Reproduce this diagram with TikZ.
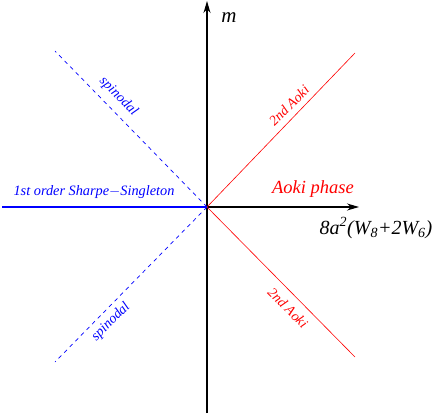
\documentclass[tikz,border=0pt]{standalone}
\usepackage{fontspec}
\setmainfont{Liberation Serif}
\usetikzlibrary{arrows.meta}
\begin{document}
\begin{tikzpicture}[x=1pt,y=-1pt,
  axis/.style={line width=1.2pt,-{Stealth[length=12pt,width=7pt]}},
  aoki/.style={red,line width=0.6pt},
  spin/.style={blue,dashed,line width=0.7pt,dash pattern=on 4pt off 4pt},
  lab/.style={inner sep=1pt},
  small/.style={font=\itshape\fontsize{14}{16}\selectfont}]
\useasboundingbox (0,0) rectangle (436,414);
\coordinate (O) at (207,207);
\coordinate (bot) at (207,413);
\coordinate (top) at (207,1);
\coordinate (right) at (359,207);
\coordinate (left) at (2,207);
\coordinate (ur) at (355,53);
\coordinate (lr) at (355,357);
\coordinate (ul) at (55,51);
\coordinate (ll) at (55,362);
\draw[axis] (bot) -- (top);
\draw[axis] (O) -- (right);
\draw[blue,line width=2.2pt] (left) -- (O);
\draw[aoki] (O) -- (ur);
\draw[aoki] (O) -- (lr);
\draw[spin] (O) -- (ul);
\draw[spin] (O) -- (ll);
\node[lab,font=\itshape\fontsize{21}{23}\selectfont] (m) at (229,18) {m};
\node[lab,red,font=\itshape\fontsize{18.5}{20}\selectfont] (ap) at (313,189) {Aoki phase};
\node[lab,font=\itshape\fontsize{20}{22}\selectfont] (xl) at (376,228) {8a$^{\mathit 2}$(W$_{\mathit 8}$+2W$_{\mathit 6}$)};
\node[lab,blue,font=\itshape\fontsize{14.3}{16}\selectfont] (ss) at (94,192) {1st order Sharpe$-$Singleton};
\node[lab,blue,small,rotate=-45] (s1) at (118.5,96.5) {spinodal};
\node[lab,blue,small,rotate=45] (s2) at (111,322) {spinodal};
\node[lab,red,small,rotate=45] (a1) at (289,105.5) {2nd Aoki};
\node[lab,red,small,rotate=-45] (a2) at (288,308) {2nd Aoki};
\end{tikzpicture}
\end{document}
